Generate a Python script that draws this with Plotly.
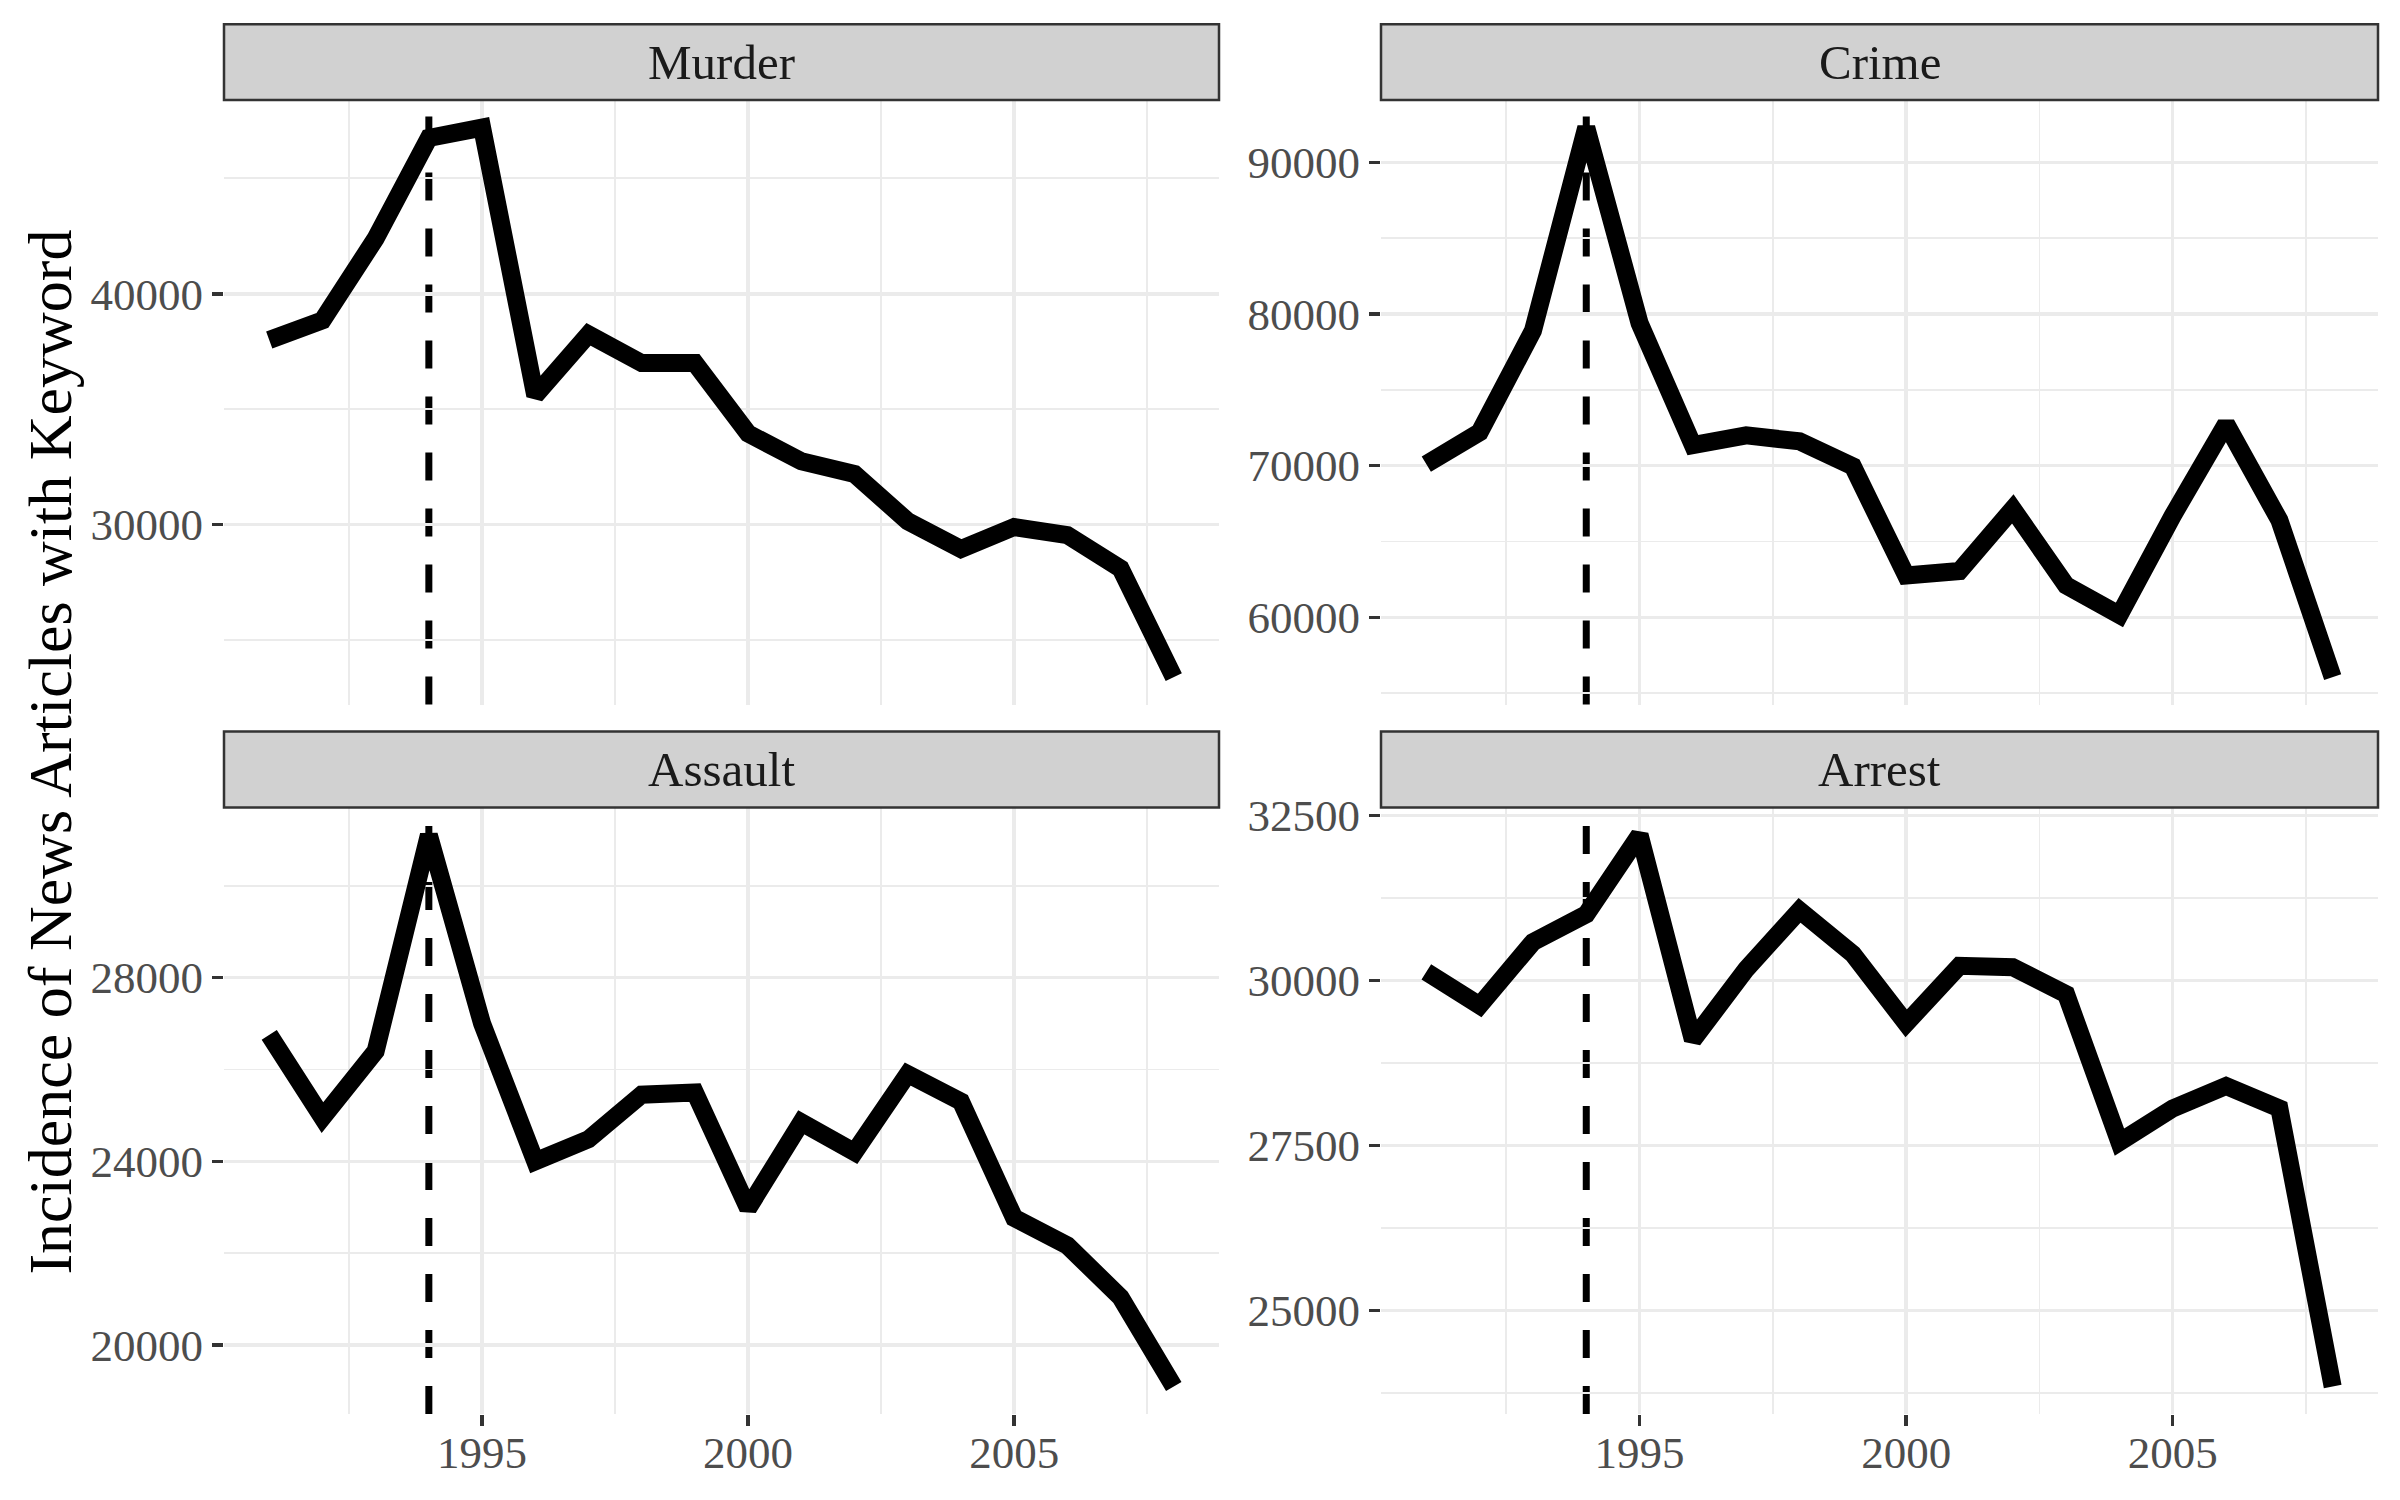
import plotly.graph_objects as go

# ---------------- data ----------------
years = list(range(1991, 2009))
panel_names = ["Murder", "Crime", "Assault", "Arrest"]
murder = [38000, 38850, 42400, 46750, 47200, 35600, 38250, 37000, 37000, 33950,
          32750, 32200, 30150, 28950, 29900, 29550, 28100, 23400]
crime = [70100, 72200, 78900, 92300, 79400, 71350, 72000, 71600, 69950, 62750,
         63050, 67150, 62100, 60150, 66700, 72750, 66400, 56050]
assault = [26750, 24950, 26400, 31100, 27000, 24000, 24480, 25450, 25500, 22980,
           24850, 24200, 25900, 25300, 22770, 22170, 21040, 19100]
arrest = [30130, 29620, 30580, 31000, 32200, 29100, 30170, 31060, 30400, 29350,
          30220, 30200, 29790, 27550, 28060, 28400, 28060, 23850]
series = [murder, crime, assault, arrest]
y_dticks = [10000, 10000, 4000, 2500]
x_ticks = [1995, 2000, 2005]
x_minor = [1992.5, 1997.5, 2002.5, 2007.5]
law_year = 1994
y_title = "Incidence of News Articles with Keyword"

# ---------------- layout geometry (target pixels in the photo) ----------------
W, H = 2400, 1500
col_px = [(224, 1219), (1381, 2378)]
row_px = [(99, 704), (807, 1414)]
strip_px = [(23, 99), (731, 807)]

FONT = "Liberation Serif"
GRID = "#EBEBEB"

# empirical page -> photo mapping in y (photo = (fig + 15) * 1500/1515)
def to_fig_y(p):
    return p * 1515.0 / 1500.0 - 15.0

def fx(p):
    return p / W

def fy(p):
    return 1 - to_fig_y(p) / H

fig = go.Figure()
shapes = []
annotations = []

xmin, xmax = min(years), max(years)
xpad = 0.05 * (xmax - xmin)

for i, (name, vals, dt) in enumerate(zip(panel_names, series, y_dticks)):
    r, c = divmod(i, 2)
    k = "" if i == 0 else str(i + 1)
    xa, ya = "x" + k, "y" + k
    lo, hi = min(vals), max(vals)
    pad = 0.05 * (hi - lo)
    x0p, x1p = col_px[c]
    y0p, y1p = row_px[r]
    bottom = (r == 1)
    fig.layout["xaxis" + k] = dict(
        domain=[fx(x0p), fx(x1p)], anchor=ya, range=[xmin - xpad, xmax + xpad],
        tickmode="array", tickvals=x_ticks, ticktext=[str(v) for v in x_ticks],
        showticklabels=bottom, ticks="outside" if bottom else "",
        ticklen=11, tickwidth=3.5, tickcolor="#333333",
        ticklabelstandoff=-12,
        tickfont=dict(family=FONT, size=45, color="#4D4D4D"),
        showgrid=True, gridcolor=GRID, gridwidth=3.5,
        minor=dict(tickmode="array", tickvals=x_minor, showgrid=True,
                   gridcolor=GRID, gridwidth=1.8),
        zeroline=False, showline=False, fixedrange=True,
    )
    fig.layout["yaxis" + k] = dict(
        domain=[fy(y1p), fy(y0p)], anchor=xa, range=[lo - pad, hi + pad],
        tick0=0, dtick=dt, tickformat="d",
        ticks="outside", ticklen=11, tickwidth=3.5, tickcolor="#333333",
        tickfont=dict(family=FONT, size=45, color="#4D4D4D"),
        showgrid=True, gridcolor=GRID, gridwidth=3.5,
        minor=dict(tick0=0, dtick=dt / 2, showgrid=True, gridcolor=GRID,
                   gridwidth=1.8),
        zeroline=False, showline=False, fixedrange=True,
    )
    # dashed vertical reference line (drawn below the data line)
    shapes.append(dict(type="line", xref=xa, yref=ya + " domain",
                       x0=law_year, x1=law_year, y0=0, y1=1,
                       line=dict(color="black", width=7, dash="28px,28px"),
                       layer="below"))
    fig.add_trace(go.Scatter(x=years, y=vals, mode="lines",
                             line=dict(color="black", width=18),
                             xaxis=xa, yaxis=ya, showlegend=False,
                             hoverinfo="skip"))
    # strip
    s0, s1 = strip_px[r]
    shapes.append(dict(type="rect", xref="paper", yref="paper",
                       x0=fx(x0p), x1=fx(x1p), y0=fy(s1), y1=fy(s0),
                       fillcolor="#D1D1D1", line=dict(color="#333333", width=2.5),
                       layer="above"))
    annotations.append(dict(text=name, xref="paper", yref="paper",
                            x=fx((x0p + x1p) / 2), y=fy((s0 + s1) / 2),
                            xanchor="center", yanchor="middle", showarrow=False,
                            font=dict(family=FONT, size=49, color="#1A1A1A")))

annotations.append(dict(text=y_title, xref="paper", yref="paper",
                        x=fx(50), y=fy(752), textangle=-90,
                        xanchor="center", yanchor="middle", showarrow=False,
                        font=dict(family=FONT, size=62, color="black")))

fig.update_layout(width=W, height=H, margin=dict(l=0, r=0, t=0, b=0),
                  paper_bgcolor="white", plot_bgcolor="white",
                  shapes=shapes, annotations=annotations,
                  font=dict(family=FONT))

pin_js = (
    "document.documentElement.style.margin='0';"
    "document.body.style.margin='0';"
    "document.body.style.overflow='hidden';"
    "var d=document.getElementById('{plot_id}');"
    "d.style.position='fixed';d.style.left='0px';d.style.top='0px';"
)

fig.write_html("out.html", post_script=pin_js,
               config={"displayModeBar": False, "staticPlot": True})
